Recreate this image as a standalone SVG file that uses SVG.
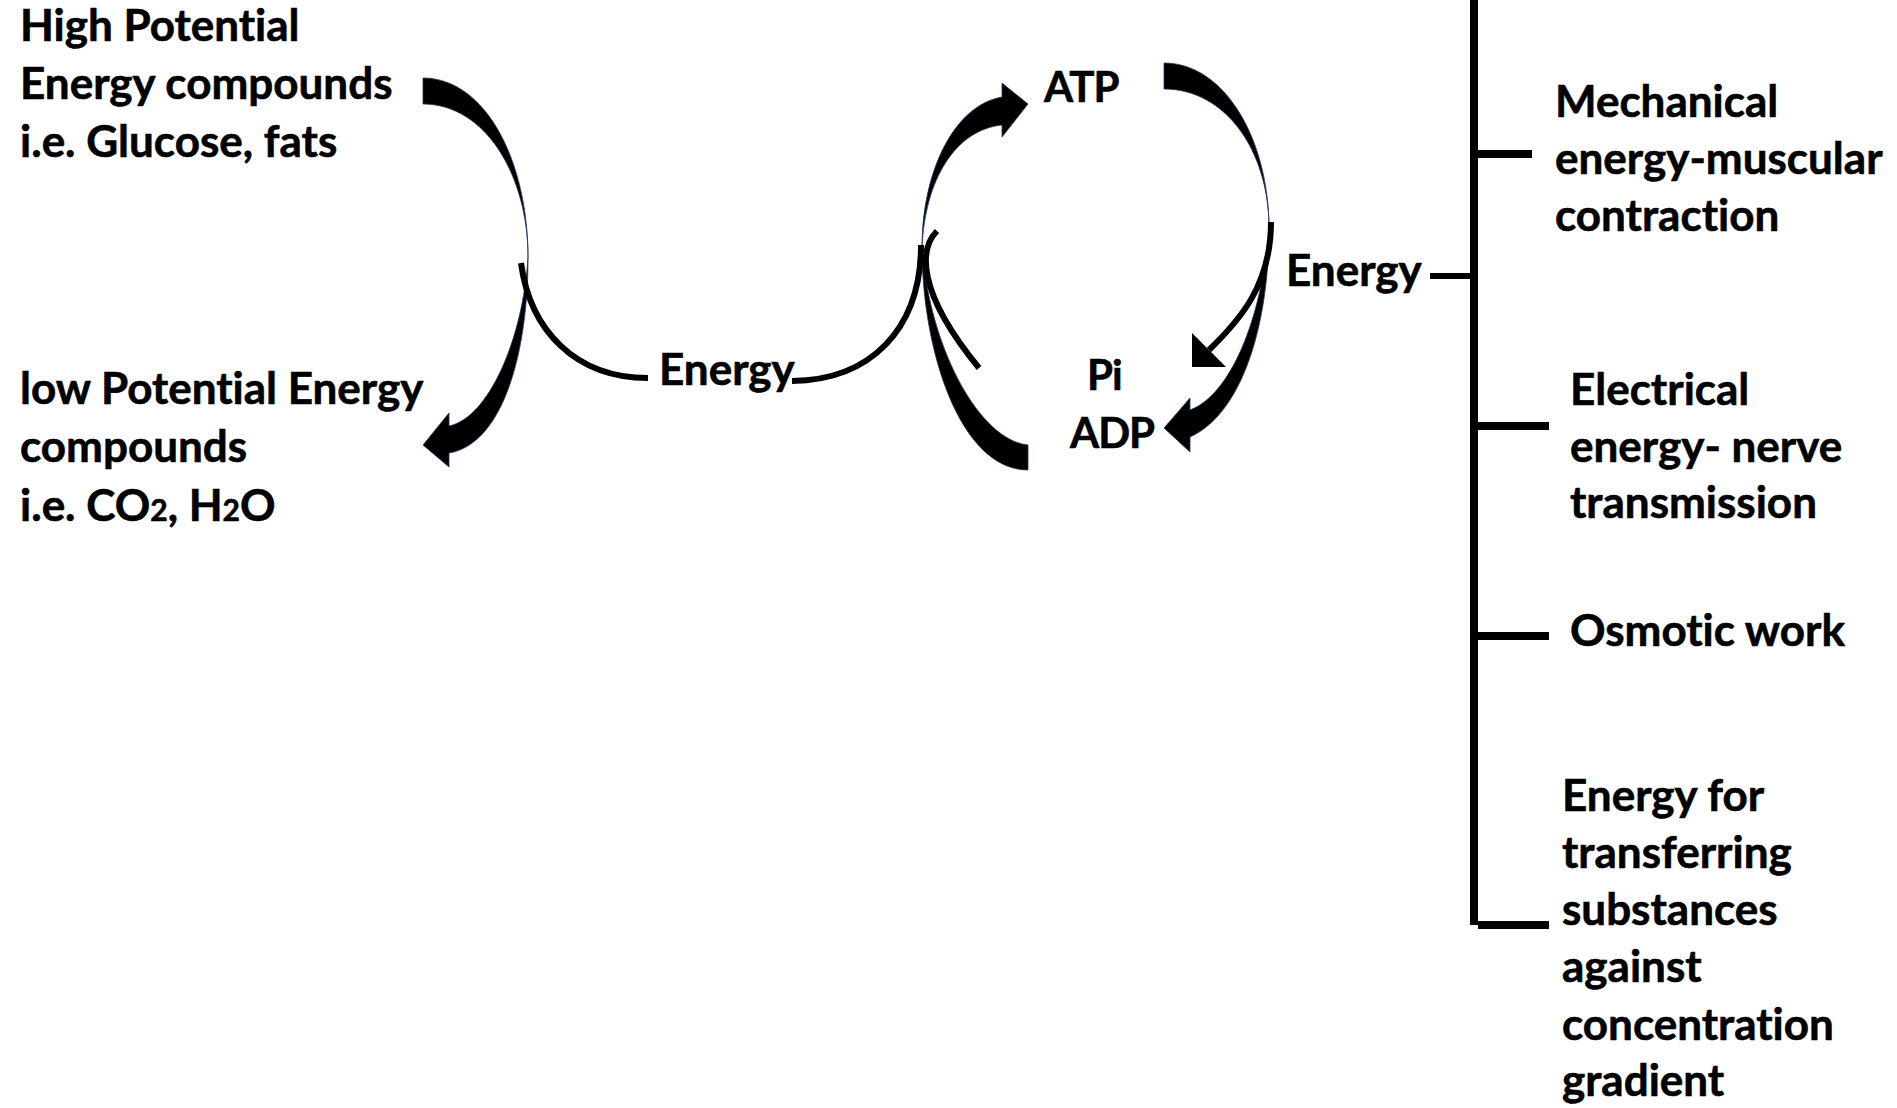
<svg xmlns="http://www.w3.org/2000/svg" width="1897" height="1108" viewBox="0 0 1897 1108">
  <style>
    .lbl { font-family: Lato, "Liberation Sans", sans-serif; font-weight: bold; font-size: 44px; fill: #000; stroke: #000; stroke-width: 0.6; font-variant-ligatures: none; font-feature-settings: "liga" 0, "clig" 0; }
    .short { font-size: 42px; letter-spacing: -1px; }
    .sub { font-size: 30px; }
    .crescent { fill: #000; stroke: #1f3a60; stroke-width: 0.8; stroke-linejoin: miter; }
    .wire { fill: none; stroke: #000; stroke-width: 6; stroke-linecap: butt; }
    .bus { fill: none; stroke: #000; stroke-width: 8; stroke-linecap: butt; }
  </style>

  <!-- text nodes -->
  <g id="high-potential">
    <text class="lbl" x="20" y="41">High Potential</text>
    <text class="lbl" x="20" y="99">Energy compounds</text>
    <text class="lbl" x="20" y="157">i.e. Glucose, fats</text>
  </g>
  <g id="low-potential">
    <text class="lbl" x="20" y="404">low Potential Energy</text>
    <text class="lbl" x="20" y="462">compounds</text>
    <text class="lbl" x="20" y="521">i.e. CO<tspan class="sub">2</tspan>, H<tspan class="sub">2</tspan>O</text>
  </g>
  <g id="energy-mid">
    <text class="lbl" x="659" y="385">Energy</text>
  </g>
  <g id="atp">
    <text class="lbl short" x="1044" y="102">ATP</text>
  </g>
  <g id="pi">
    <text class="lbl short" x="1087" y="390">Pi</text>
  </g>
  <g id="adp">
    <text class="lbl short" x="1070" y="448">ADP</text>
  </g>
  <g id="energy-right">
    <text class="lbl" x="1286" y="286">Energy</text>
  </g>
  <g id="mechanical">
    <text class="lbl" x="1555" y="117">Mechanical</text>
    <text class="lbl" x="1555" y="174">energy-muscular</text>
    <text class="lbl" x="1555" y="231">contraction</text>
  </g>
  <g id="electrical">
    <text class="lbl" x="1570" y="405">Electrical</text>
    <text class="lbl" x="1570" y="462">energy- nerve</text>
    <text class="lbl" x="1570" y="518">transmission</text>
  </g>
  <g id="osmotic">
    <text class="lbl" x="1570" y="646">Osmotic work</text>
  </g>
  <g id="transport">
    <text class="lbl" x="1562" y="811">Energy for</text>
    <text class="lbl" x="1562" y="868">transferring</text>
    <text class="lbl" x="1562" y="925">substances</text>
    <text class="lbl" x="1562" y="982">against</text>
    <text class="lbl" x="1562" y="1040">concentration</text>
    <text class="lbl" x="1562" y="1096">gradient</text>
  </g>

  <!-- connectors -->
  <g id="connectors">
    <!-- high to low potential: curved left arrow -->
    <path class="crescent" d="M 423,78 C 485,78 528,160 528,257 C 528,360 500,445 449,453 L 449,467 L 423,445 L 449,413 L 449,426 C 488,418 523,340 528,257 C 528,175 485,104 423,104 Z"/>
    <!-- ADP to ATP: curved right arrow -->
    <path class="crescent" d="M 1028,104 L 1002,83 L 1002,97 C 955,105 922,170 922,248 C 922,350 960,470 1028,470 L 1028,445 C 980,440 930,350 922,248 C 925,180 955,130 1002,125 L 1002,137 Z"/>
    <!-- ATP to ADP: curved left arrow -->
    <path class="crescent" d="M 1164,63 C 1225,63 1269,140 1269,228 C 1269,330 1240,415 1190,437 L 1190,452 L 1164,428 L 1190,398 L 1190,410 C 1230,395 1262,320 1269,228 C 1269,150 1225,89 1164,89 Z"/>

    <!-- energy released by oxidation, coupled to ATP synthesis -->
    <path class="wire" d="M 521,263 C 530,330 575,378 648,378"/>
    <path class="wire" d="M 792,381 C 870,380 921,330 921,245"/>
    <path class="wire" d="M 937,231 C 920,248 915,290 979,368"/>

    <!-- energy released by ATP hydrolysis -->
    <path class="wire" d="M 1271,222 C 1271,285 1240,320 1209,350"/>
    <polygon points="1192,333 1192,367 1226,367" fill="#000"/>

    <!-- distribution bus -->
    <path class="wire" d="M 1430,276 L 1474,276"/>
    <path class="bus" d="M 1474,-5 L 1474,925"/>
    <path class="bus" d="M 1474,154 L 1532,154"/>
    <path class="bus" d="M 1474,426 L 1549,426"/>
    <path class="bus" d="M 1474,636 L 1549,636"/>
    <path class="bus" d="M 1478,925 L 1549,925"/>
  </g>
</svg>
